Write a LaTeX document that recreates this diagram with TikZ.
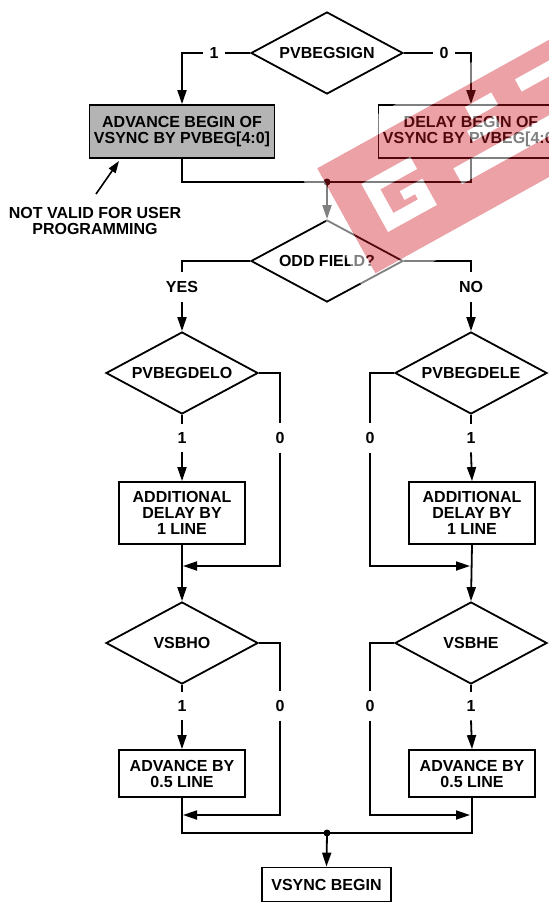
\documentclass[tikz,border=0pt]{standalone}
\usepackage{fontspec}
\setmainfont{Liberation Sans}
\usetikzlibrary{arrows.meta,shapes.geometric}
\definecolor{boxgray}{RGB}{180,180,180}
\definecolor{wmred}{RGB}{204,20,31}
\begin{document}
\begin{tikzpicture}[x=1pt,y=-1pt,
  font=\bfseries\fontsize{16}{16}\selectfont,
  line width=1.8pt,
  dec/.style={diamond, draw, minimum width=152pt, minimum height=82pt, inner sep=0pt, aspect=1.85},
  proc/.style={rectangle, draw, inner sep=0pt, align=center},
  hlab/.style={inner xsep=6pt, inner ysep=2pt},
  vlab/.style={inner xsep=2pt, inner ysep=8pt},
  arr/.style={-{Triangle[length=14pt,width=9pt]}},
  arrs/.style={-{Triangle[length=12pt,width=8pt]}},
  jdot/.style={circle, fill, inner sep=0pt, minimum size=7pt}
]
\useasboundingbox (0,0) rectangle (549,903);
\clip (0,0) rectangle (549,903);

% top decision
\node[dec] (sign) at (327,53) {PVBEGSIGN};
\node[hlab] (l1) at (214,53) {1};
\node[hlab] (l0) at (444,53) {0};
\node[proc, fill=boxgray, minimum width=185pt, minimum height=53pt] (adv) at (182,131.5) {ADVANCE BEGIN OF\\VSYNC BY PVBEG[4:0]};
\node[proc, minimum width=185pt, minimum height=53pt] (delay) at (471,131.5) {DELAY BEGIN OF\\VSYNC BY PVBEG[4:0]};
\draw (sign.west) -- (l1.east);
\draw[arr] (l1.west) -| (adv.north);
\draw (sign.east) -- (l0.west);
\draw[arr] (l0.east) -| (delay.north);

% note
\node[align=center, inner sep=2pt] (note) at (95,220.5) {NOT VALID FOR USER\\PROGRAMMING};
\coordinate (nstart) at (96,194);
\coordinate (ntip) at (119,161);
\draw[arrs, line width=1.6pt] (nstart) -- (ntip);

% merge 1
\node[jdot] (j1) at (327,182) {};
\draw (adv.south) |- (j1.center) -| (delay.south);
\node[dec] (odd) at (327,261) {ODD FIELD?};
\draw[arr] (j1.center) -- (odd.north);

\node[vlab] (yes) at (182,287) {YES};
\node[vlab] (no) at (471,287) {NO};
\draw (odd.west) -| (yes.north);
\draw (odd.east) -| (no.north);

\node[dec] (delo) at (182,373) {PVBEGDELO};
\node[dec] (dele) at (471,373) {PVBEGDELE};
\draw[arr] (yes.south) -- (delo.north);
\draw[arr] (no.south) -- (dele.north);

\node[vlab] (d1) at (182,438) {1};
\node[vlab] (d0) at (280,438) {0};
\node[vlab] (e0) at (370,438) {0};
\node[vlab] (e1) at (471,438) {1};
\draw (delo.south) -- (d1.north);
\draw (dele.south) -- (e1.north);
\draw (delo.east) -| (d0.north);
\draw (dele.west) -| (e0.north);

\node[proc, minimum width=126pt, minimum height=62pt] (add1) at (182,513) {ADDITIONAL\\DELAY BY\\1 LINE};
\node[proc, minimum width=126pt, minimum height=62pt] (add2) at (472,513) {ADDITIONAL\\DELAY BY\\1 LINE};
\draw[arr] (d1.south) -- (add1.north);
\draw[arr] (e1.south) -- (add2.north);

\coordinate (m1) at (183,566);
\coordinate (m2) at (470,566);
\draw[arr] (d0.south) |- (m1);
\draw[arr] (e0.south) |- (m2);

\node[dec] (vo) at (182,643) {VSBHO};
\node[dec] (ve) at (471,643) {VSBHE};
\draw[arr] (add1.south) -- (vo.north);
\draw[arr] (add2.south) -- (ve.north);

\node[vlab] (f1) at (182,706) {1};
\node[vlab] (f0) at (280,706) {0};
\node[vlab] (g0) at (370,706) {0};
\node[vlab] (g1) at (471,706) {1};
\draw (vo.south) -- (f1.north);
\draw (ve.south) -- (g1.north);
\draw (vo.east) -| (f0.north);
\draw (ve.west) -| (g0.north);

\node[proc, minimum width=126pt, minimum height=47pt] (adv1) at (182,773.5) {ADVANCE BY\\0.5 LINE};
\node[proc, minimum width=126pt, minimum height=47pt] (adv2) at (472,773.5) {ADVANCE BY\\0.5 LINE};
\draw[arr] (f1.south) -- (adv1.north);
\draw[arr] (g1.south) -- (adv2.north);

\coordinate (m3) at (183,815);
\coordinate (m4) at (470,815);
\draw[arr] (f0.south) |- (m3);
\draw[arr] (g0.south) |- (m4);

\node[jdot] (j2) at (327,833) {};
\draw (adv1.south) |- (j2.center) -| (adv2.south);
\node[proc, minimum width=129pt, minimum height=34pt] (vs) at (326.5,884.5) {VSYNC BEGIN};
\draw[arr] (j2.center) -- (vs.north);

% watermark
\begin{scope}[shift={(388,232)}, x={(0.8746pt,0.4848pt)}, y={(-0.4848pt,0.8746pt)}]
\fill[white, fill opacity=0.5, even odd rule]
  (-49,-48) -- (420,-48) -- (420,108) -- (-49,108) -- cycle
  (-31,-30) -- (420,-30) -- (420,90) -- (-31,90) -- cycle;
\fill[wmred, fill opacity=0.4, even odd rule]
  (-31,-30) -- (420,-30) -- (420,90) -- (-31,90) -- cycle
  (0,0) -- (56,0) -- (56,30) -- (30,30) -- (30,20) -- (42,20) -- (42,14) -- (14,14) -- (14,41) -- (56,41) -- (56,55) -- (0,55) -- cycle
  (88,6) -- (200,6) -- (200,24) -- (88,24) -- cycle
  (118,38) -- (150,38) -- (150,50) -- (118,50) -- cycle
  (128,58) -- (158,58) -- (158,72) -- (128,72) -- cycle
  (185,58) -- (228,58) -- (228,72) -- (185,72) -- cycle;
\fill[white, fill opacity=0.5]
  (0,0) -- (56,0) -- (56,30) -- (30,30) -- (30,20) -- (42,20) -- (42,14) -- (14,14) -- (14,41) -- (56,41) -- (56,55) -- (0,55) -- cycle
  (88,6) -- (200,6) -- (200,24) -- (88,24) -- cycle
  (118,38) -- (150,38) -- (150,50) -- (118,50) -- cycle
  (128,58) -- (158,58) -- (158,72) -- (128,72) -- cycle
  (185,58) -- (228,58) -- (228,72) -- (185,72) -- cycle;
\end{scope}
\end{tikzpicture}
\end{document}
